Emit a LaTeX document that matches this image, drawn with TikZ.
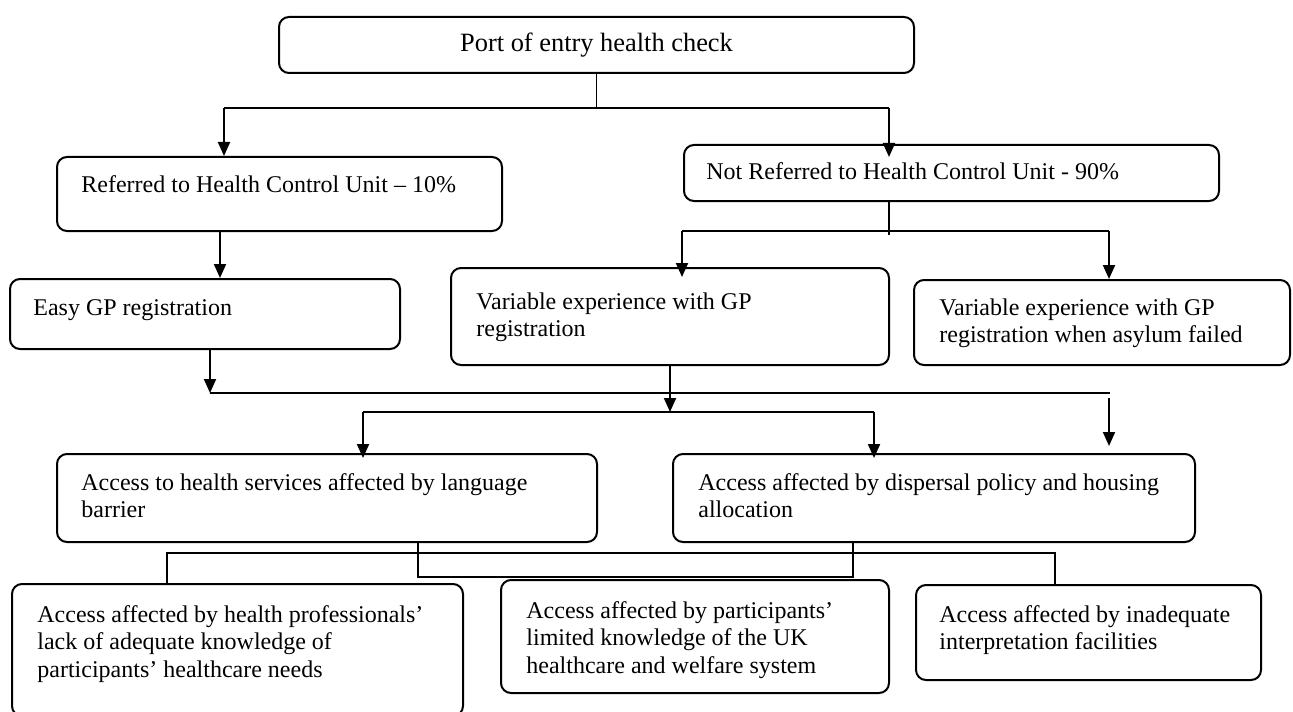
\documentclass[tikz,border=0pt]{standalone}
\usepackage{fontspec}
\setmainfont{Liberation Serif}
\usetikzlibrary{arrows.meta,calc}

\begin{document}
\begin{tikzpicture}[x=0.5pt,y=-0.5pt,
  >={Triangle[length=7pt,width=6pt]},
  every node/.style={font=\fontsize{12}{13.8}\selectfont},
  box/.style={draw,line width=1pt,rounded corners=5pt,inner sep=0pt},
  txt/.style={anchor=base west,inner sep=0pt,align=flush left,text width=300pt},
  conn/.style={line width=1pt},
  thinconn/.style={line width=0.6pt}]

\useasboundingbox (0,0) rectangle (1293,711);

% port of entry node
\node[box,minimum width=317.5pt,minimum height=28pt,font=\fontsize{13.2}{15}\selectfont] (port) at (596.5,45) {Port of entry health check};

% referred node
\node[box,minimum width=222.5pt,minimum height=37pt] (ref) at (279.5,194) {};
\node[txt] (ref-t) at (81,192) {Referred to Health Control Unit – 10\%};

% not referred node
\node[box,minimum width=267.5pt,minimum height=28pt] (nref) at (951.5,173) {};
\node[txt] (nref-t) at (706,179) {Not Referred to Health Control Unit - 90\%};

% easy registration node
\node[box,minimum width=195pt,minimum height=35pt] (easy) at (205,314) {};
\node[txt] (easy-t) at (33,315) {Easy GP registration};

% variable registration node
\node[box,minimum width=219pt,minimum height=48.5pt] (var) at (670,316.5) {};
\node[txt] (var-t) at (476,309) {Variable experience with GP\\registration};

% failed asylum node
\node[box,minimum width=188pt,minimum height=42.5pt] (varf) at (1102,322.5) {};
\node[txt] (varf-t) at (939,315) {Variable experience with GP\\registration when asylum failed};

% language barrier node
\node[box,minimum width=270pt,minimum height=44pt] (lang) at (327,498) {};
\node[txt] (lang-t) at (81,490) {Access to health services affected by language\\barrier};

% dispersal node
\node[box,minimum width=261pt,minimum height=44pt] (disp) at (934,498) {};
\node[txt] (disp-t) at (698,490) {Access affected by dispersal policy and housing\\allocation};

% professionals node
\node[box,minimum width=225.5pt,minimum height=66pt] (prof) at (237.5,650) {};
\node[txt] (prof-t) at (37,622) {Access affected by health professionals’\\lack of adequate knowledge of\\participants’ healthcare needs};

% knowledge node
\node[box,minimum width=194pt,minimum height=56.5pt] (know) at (695,636.5) {};
\node[txt] (know-t) at (526,618) {Access affected by participants’\\limited knowledge of the UK\\healthcare and welfare system};

% interpretation node
\node[box,minimum width=172.5pt,minimum height=47.5pt] (interp) at (1088.5,632.5) {};
\node[txt] (interp-t) at (939,622) {Access affected by inadequate\\interpretation facilities};

% split below port
\coordinate (pl) at (224,108);
\coordinate (pr) at (889,108);
\draw[thinconn] (port.south) -- (port.south |- pl);
\draw[conn] (pl) -- (pr);
\draw[conn,->] (pl) -- (pl |- ref.north);
\draw[conn,->] (pr) -- ($(pr |- nref.north)+(0,13)$);

% referred to easy
\coordinate (rs) at (220,231);
\draw[conn,->] (rs) -- (rs |- easy.north);

% split below not referred
\coordinate (ns) at (889,235);
\coordinate (nl) at (682,231);
\coordinate (nr) at (1109,231);
\draw[thinconn] (ns |- nref.south) -- (ns);
\draw[conn] (nl) -- (nr);
\draw[conn,->] (nl) -- ($(nl |- var.north)+(0,10)$);
\draw[conn,->] (nr) -- (nr |- varf.north);

% registration lines
\coordinate (el) at (210,393);
\coordinate (er) at (1110,393);
\draw[conn,->] ($(el |- easy.south)+(0,-2)$) -- (el);
\draw[conn] (el) -- (er);

\coordinate (al) at (363,412);
\coordinate (ar) at (874,412);
\draw[conn,->] (var.south) -- (var.south |- al);
\draw[conn] (al) -- (ar);
\draw[conn,->] (al) -- ($(al |- lang.north)+(0,5)$);
\draw[conn,->] (ar) -- ($(ar |- disp.north)+(0,5)$);

\coordinate (dt) at (1109,398);
\draw[conn,->] (dt) -- ($(dt |- disp.north)+(0,-7)$);

% language to dispersal
\coordinate (ls) at (418,577);
\coordinate (ds) at (853,577);
\draw[thinconn] (ls |- lang.south) -- (ls) -- (ds) -- (ds |- disp.south);

% bottom split
\coordinate (bl) at (167,553);
\coordinate (br) at (1055,553);
\draw[thinconn] (bl |- prof.north) -- (bl) -- (br) -- (br |- interp.north);

\end{tikzpicture}
\end{document}
